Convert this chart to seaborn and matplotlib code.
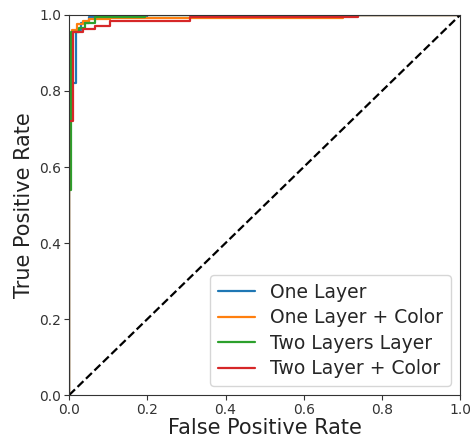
import matplotlib
matplotlib.use("Agg")
import matplotlib.pyplot as plt
import seaborn as sns
import pandas as pd

labels = ["One Layer", "One Layer + Color", "Two Layers Layer", "Two Layer + Color"]

fpr_one = [0, 0, 0.018, 0.018, 0.03, 0.03, 0.05, 0.05, 0.2, 0.2, 1.0]
tpr_one = [0, 0.82, 0.82, 0.96, 0.96, 0.98, 0.98, 0.995, 0.995, 1.0, 1.0]

fpr_one_c = [0, 0, 0.008, 0.008, 0.02, 0.02, 0.035, 0.035, 0.05, 0.05, 0.105, 0.105, 0.70, 0.70, 1.0]
tpr_one_c = [0, 0.94, 0.94, 0.96, 0.96, 0.976, 0.976, 0.985, 0.985, 0.99, 0.99, 0.993, 0.993, 1.0, 1.0]

fpr_two = [0, 0, 0.006, 0.006, 0.025, 0.025, 0.04, 0.04, 0.065, 0.065, 0.195, 0.195, 1.0]
tpr_two = [0, 0.54, 0.54, 0.955, 0.955, 0.965, 0.965, 0.98, 0.98, 0.995, 0.995, 1.0, 1.0]

fpr_two_c = [0, 0, 0.009, 0.009, 0.036, 0.036, 0.066, 0.066, 0.105, 0.105, 0.31, 0.31, 0.74, 0.74, 1.0]
tpr_two_c = [0, 0.72, 0.72, 0.955, 0.955, 0.962, 0.962, 0.97, 0.97, 0.983, 0.983, 0.995, 0.995, 1.0, 1.0]

diag = [0.0, 1.0]

sns.set_style("ticks")
plt.rcParams['font.family'] = ['DejaVu Sans']

frames = []
for lab, f, t in zip(labels, [fpr_one, fpr_one_c, fpr_two, fpr_two_c],
                     [tpr_one, tpr_one_c, tpr_two, tpr_two_c]):
    frames.append(pd.DataFrame({"fpr": f, "tpr": t, "model": lab}))
df = pd.concat(frames, ignore_index=True)

fig = plt.figure(figsize=(4.7, 4.4), dpi=100)
ax = fig.add_axes([0.147, 0.102, 0.832, 0.864])

sns.lineplot(data=df, x="fpr", y="tpr", hue="model", hue_order=labels,
             palette=sns.color_palette("tab10", 4), estimator=None, sort=False,
             units="model", lw=1.6, ax=ax)
ax.plot(diag, diag, 'k--', lw=1.6)

ax.set_xlim(0, 1)
ax.set_ylim(0, 1)
ax.set_xticks([0, 0.2, 0.4, 0.6, 0.8, 1.0])
ax.set_yticks([0, 0.2, 0.4, 0.6, 0.8, 1.0])
ax.tick_params(labelsize=10, colors="#333333", pad=2)
ax.set_xlabel("False Positive Rate", fontsize=15, color="#222222", labelpad=1)
ax.set_ylabel("True Positive Rate", fontsize=15, color="#222222", labelpad=4)
for s in ax.spines.values():
    s.set_color("#333333")
leg = ax.legend(loc="lower right", fontsize=13.5, handlelength=2.0, labelspacing=0.35)
fig.savefig("out.png", dpi=100)
